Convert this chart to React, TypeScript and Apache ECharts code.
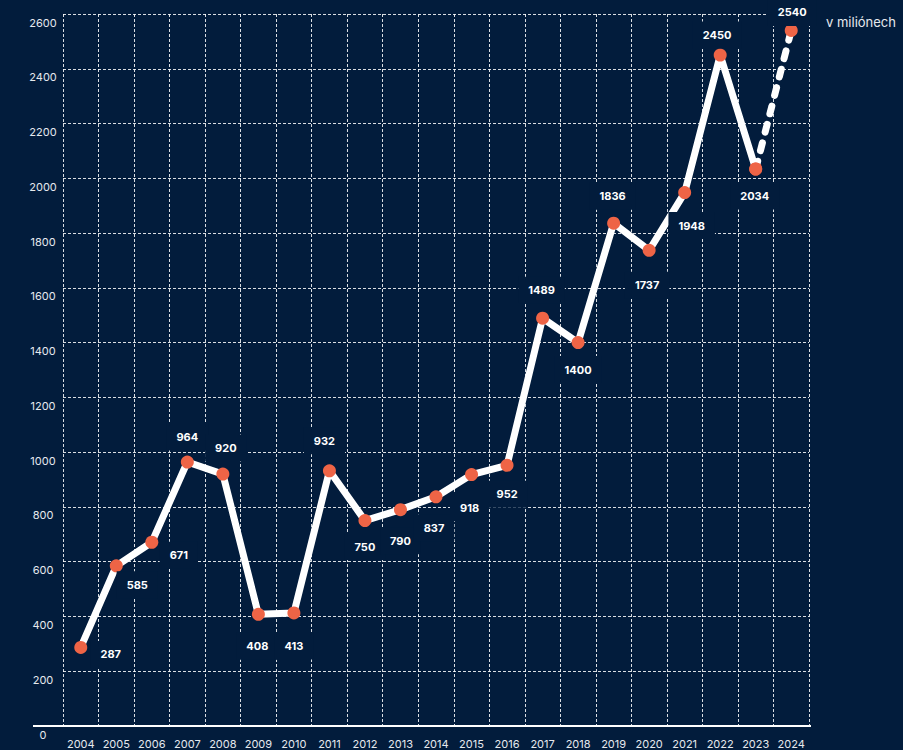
import React, { useEffect, useRef } from "react";
import * as echarts from "echarts";

const years = ["2004","2005","2006","2007","2008","2009","2010","2011","2012","2013","2014","2015","2016","2017","2018","2019","2020","2021","2022","2023","2024"];
const values = [287,585,671,964,920,408,413,932,750,790,837,918,952,1489,1400,1836,1737,1948,2450,2034,2540];
const yTicks = [0,200,400,600,800,1000,1200,1400,1600,1800,2000,2200,2400,2600];
const unitLabel = "v miliónech";

// label placement (text centre relative to the point), style only
const labelOffsets: number[][] = [
  [30,7],[21,19],[27,13],[0,-25],[3,-26],[-1,32],[0,33],[-5,-30],[0,26],[0,31],[-2,31],
  [-2,33],[0,29],[-1,-28],[0,27],[-1,-27],[-2,35],[7,33],[-3,-20],[-1,27],[1,-18]
];

const BG = "#021c3c";
const DOT = "#ee6446";
const FONT = "Inter, 'Noto Sans', sans-serif";

export default function App() {
  const ref = useRef<HTMLDivElement>(null);
  useEffect(() => {
    if (!ref.current) return;
    const chart = echarts.init(ref.current, undefined, { renderer: "svg" });
    const last = values.length - 1;
    const labelBase = {
      show: true,
      position: "inside",
      align: "center",
      verticalAlign: "middle",
      color: "#ffffff",
      fontFamily: FONT,
      fontWeight: "bold",
      fontSize: 11,
      backgroundColor: BG,
      padding: [8, 10],
      formatter: "{c}",
    };
    const solidData = values.map((v, i) =>
      i === last ? "-" : { value: v, label: { ...labelBase, offset: labelOffsets[i] } }
    );
    const dashData = values.map((v, i) =>
      i < last - 1
        ? "-"
        : i === last
        ? { value: v, label: { ...labelBase, offset: labelOffsets[i] } }
        : { value: v, label: { show: false } }
    );
    const gridLine = { show: true, lineStyle: { color: "rgba(255,255,255,0.85)", width: 1, type: [3, 2] } };
    chart.setOption({
      animation: false,
      backgroundColor: BG,
      grid: { left: 63, right: 94, top: 14, bottom: 24, containLabel: false, outerBoundsMode: "none" },
      xAxis: {
        type: "category",
        data: years,
        boundaryGap: true,
        axisLine: { show: false },
        axisTick: { show: false },
        axisLabel: { color: "#e6e9ee", fontSize: 11, fontFamily: FONT, margin: 12, interval: 0 },
        splitLine: { ...gridLine, interval: 0 },
      },
      yAxis: {
        type: "value",
        min: 0,
        max: yTicks[yTicks.length - 1],
        interval: 200,
        axisLine: { show: false },
        axisTick: { show: false },
        axisLabel: {
          color: "#e6e9ee",
          fontSize: 11,
          fontFamily: FONT,
          margin: 20,
          align: "center",
          verticalAlign: "top",
          padding: [3, 0, 0, 0],
          formatter: (v: number) => String(v),
        },
        splitLine: gridLine,
      },
      graphic: [
        {
          type: "line",
          shape: { x1: 33, y1: 726, x2: 811, y2: 726 },
          style: { stroke: "#ffffff", lineWidth: 2 },
          z: 10,
        },
        {
          type: "text",
          left: 826,
          top: 15,
          style: { text: unitLabel, fill: "#e6e9ee", fontSize: 13, fontFamily: FONT },
        },
      ],
      series: [
        {
          type: "line",
          data: solidData,
          symbol: "circle",
          symbolSize: 13,
          showAllSymbol: true,
          lineStyle: { color: "#ffffff", width: 7 },
          itemStyle: { color: DOT, borderWidth: 0 },
          z: 3,
        },
        {
          type: "line",
          data: dashData,
          symbol: "circle",
          symbolSize: 13,
          showAllSymbol: true,
          lineStyle: { color: "#ffffff", width: 7, type: [8, 11], cap: "round" },
          itemStyle: { color: DOT, borderWidth: 0 },
          z: 3,
        },
      ],
    });
    return () => chart.dispose();
  }, []);
  return (
    <div
      ref={ref}
      style={{ position: "fixed", left: 0, top: 0, width: 903, height: 750, background: BG }}
    />
  );
}
